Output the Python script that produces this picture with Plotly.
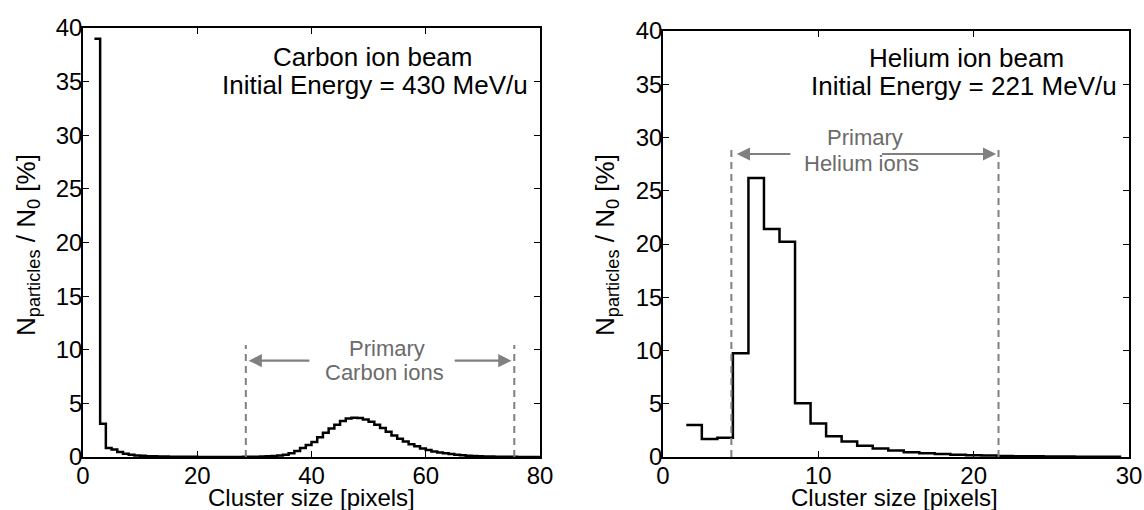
import plotly.graph_objects as go

# ---------------- data ----------------
carbon_edges = list(range(2, 81))
carbon_vals = [39.0, 3.1, 0.84, 0.69, 0.47, 0.30, 0.20, 0.15, 0.11, 0.08,
               0.06, 0.05, 0.04, 0.03, 0.03, 0.02, 0.02, 0.02, 0.01, 0.01,
               0.01, 0.01, 0.01, 0.01, 0.01, 0.01, 0.02, 0.02, 0.03, 0.05,
               0.07, 0.10, 0.14, 0.20, 0.35, 0.55, 0.85, 1.12, 1.40, 1.85,
               2.25, 2.65, 3.00, 3.35, 3.58, 3.65, 3.63, 3.50, 3.28, 3.00,
               2.70, 2.35, 2.00, 1.70, 1.45, 1.20, 1.00, 0.80, 0.65, 0.52,
               0.42, 0.34, 0.27, 0.21, 0.16, 0.12, 0.09, 0.07, 0.05, 0.04,
               0.03, 0.025, 0.02, 0.015, 0.01, 0.01, 0.01, 0.01]

helium_edges = [1.5 + i for i in range(29)]
helium_vals = [3.0, 1.7, 1.8, 9.75, 26.2, 21.4, 20.2, 5.05, 3.15, 1.95,
               1.45, 1.05, 0.8, 0.6, 0.45, 0.35, 0.28, 0.22, 0.17, 0.13,
               0.10, 0.08, 0.06, 0.05, 0.04, 0.03, 0.025, 0.02]

y_ticks = [0, 5, 10, 15, 20, 25, 30, 35, 40]
carbon_xticks = [0, 20, 40, 60, 80]
helium_xticks = [0, 10, 20, 30]

carbon_primary = [28.5, 75.5]   # dashed limits
helium_primary = [4.4, 21.6]

# ---------------- figure ----------------
W, H = 1144, 510
FONT = "Liberation Sans, Arial, Helvetica, sans-serif"
GRAY = "#808080"
TGRAY = "#6b6b6b"

def px(xp):
    return xp / W

def py(yp):
    return 1 - yp / H

fig = go.Figure()
fig.add_trace(go.Scatter(x=carbon_edges, y=carbon_vals + [carbon_vals[-1]],
                         mode="lines", line=dict(shape="hv", color="black", width=2.5),
                         xaxis="x", yaxis="y", showlegend=False, hoverinfo="skip"))
fig.add_trace(go.Scatter(x=helium_edges, y=helium_vals + [helium_vals[-1]],
                         mode="lines", line=dict(shape="hv", color="black", width=2.5),
                         xaxis="x2", yaxis="y2", showlegend=False, hoverinfo="skip"))

axis_common = dict(showline=True, linecolor="black", linewidth=1.5, mirror="ticks",
                   ticks="inside", ticklen=6, tickwidth=1, tickcolor="black",
                   showgrid=False, zeroline=False, automargin=False,
                   tickfont=dict(family=FONT, size=24, color="black"))

fig.update_layout(
    width=W, height=H,
    margin=dict(l=0, r=0, t=0, b=0, pad=0, autoexpand=False),
    paper_bgcolor="white", plot_bgcolor="white",
    xaxis=dict(domain=[px(83), px(540)], range=[0, 80], tickvals=carbon_xticks,
               anchor="y", ticklabelstandoff=-4, **axis_common),
    yaxis=dict(domain=[py(457), py(28)], range=[0, 40], tickvals=y_ticks,
               anchor="x", ticklabelstandoff=-6, **axis_common),
    xaxis2=dict(domain=[px(663), px(1129)], range=[0, 30], tickvals=helium_xticks,
                anchor="y2", ticklabelstandoff=-4, **axis_common),
    yaxis2=dict(domain=[py(457), py(31)], range=[0, 40], tickvals=y_ticks,
                anchor="x2", ticklabelstandoff=-6, **axis_common),
)

shapes = []
for xv in carbon_primary:
    shapes.append(dict(type="line", xref="x", yref="y", x0=xv, x1=xv, y0=0, y1=10.45,
                       line=dict(color=GRAY, width=2, dash="7px,5px")))
for xv in helium_primary:
    shapes.append(dict(type="line", xref="x2", yref="y2", x0=xv, x1=xv, y0=0, y1=29.1,
                       line=dict(color=GRAY, width=2, dash="7px,5px")))
fig.update_layout(shapes=shapes)

ann = []

def txt(text, xp, yp, size, color):
    ann.append(dict(text=text, xref="paper", yref="paper", x=px(xp), y=py(yp),
                    xanchor="center", yanchor="middle", showarrow=False,
                    font=dict(family=FONT, size=size, color=color)))

def arrow(xr, yr, x0, x1, yv):
    ann.append(dict(text="", xref=xr, yref=yr, axref=xr, ayref=yr,
                    x=x1, y=yv, ax=x0, ay=yv, showarrow=True,
                    arrowhead=2, arrowsize=1.2, arrowwidth=2.2, arrowcolor=GRAY))

# black labels
txt("Carbon ion beam", 372, 57, 26, "black")
txt("Initial Energy = 430 MeV/u", 375, 85, 26, "black")
txt("Helium ion beam", 966, 58, 26, "black")
txt("Initial Energy = 221 MeV/u", 964, 86, 26, "black")

# gray labels
txt("Primary", 387, 348, 22, TGRAY)
txt("Carbon ions", 384, 372, 22, TGRAY)
txt("Primary", 865, 138, 22, TGRAY)
txt("Helium ions", 861, 164, 22, TGRAY)

# arrows
arrow("x", "y", 39.9, 29.0, 8.98)
arrow("x", "y", 64.8, 75.0, 8.98)
arrow("x2", "y2", 8.3, 4.75, 28.45)
arrow("x2", "y2", 14.0, 21.45, 28.45)

# axis titles
txt("Cluster size [pixels]", 311, 497, 24, "black")
txt("Cluster size [pixels]", 895, 497, 24, "black")
ytitle = "N<sub>particles</sub> / N<sub>0</sub> [%]"
for xp in (27, 606):
    ann.append(dict(text=ytitle, xref="paper", yref="paper", x=px(xp), y=py(245),
                    xanchor="center", yanchor="middle", showarrow=False, textangle=-90,
                    font=dict(family=FONT, size=26, color="black")))

fig.update_layout(annotations=ann)
fig.write_html("out.html", config={"displayModeBar": False},
               post_script="document.body.style.margin='0px';"
                           "document.body.style.overflow='hidden';")
